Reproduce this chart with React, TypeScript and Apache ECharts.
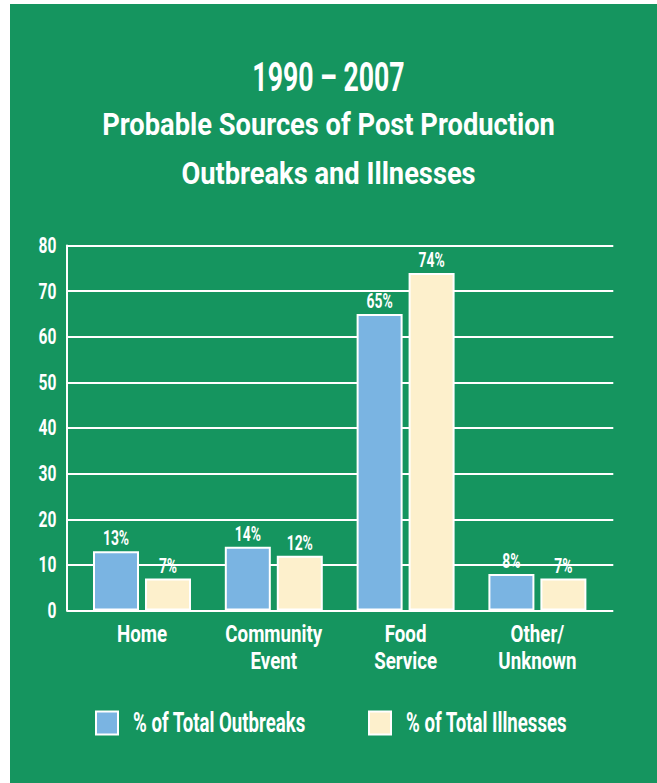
import React, { useEffect, useRef } from "react";
import * as echarts from "echarts";

const categories = ["Home", "Community\nEvent", "Food\nService", "Other/\nUnknown"];
const outbreaks = [13, 14, 65, 8];
const illnesses = [7, 12, 74, 7];
const seriesNames = ["% of Total Outbreaks", "% of Total Illnesses"];
const titleText = "1990 – 2007";
const subtitleLines = ["Probable Sources of Post Production", "Outbreaks and Illnesses"];

const FONT = "Roboto, 'Noto Sans', sans-serif";
const GREEN = "#15955f";
const BLUE = "#7ab4e2";
const CREAM = "#fdf0cc";

// horizontal condensing per font size (to imitate a condensed typeface)
const SCALE: Record<number, number> = { 41: 0.65, 31: 0.88, 27: 0.69, 24: 0.78, 22: 0.71, 21: 0.66 };

export default function App() {
  const ref = useRef<HTMLDivElement>(null);
  useEffect(() => {
    document.body.style.margin = "0";
    const root = ref.current!;
    const chart = echarts.init(root, null, { renderer: "svg" });
    const condense = () => {
      root.querySelectorAll("text").forEach((el) => {
        const cur = el.getAttribute("transform") || "";
        if (el.getAttribute("data-ct") === cur && cur !== "") return;
        const src = (el.getAttribute("style") || "") + " " + (el.getAttribute("font-size") || "") + "px";
        const m = /([\d.]+)px/.exec(src);
        const fs = m ? Math.round(parseFloat(m[1])) : 0;
        const s = SCALE[fs];
        if (!s) return;
        const x = parseFloat(el.getAttribute("x") || "0") || 0;
        const nt = `${cur} translate(${x} 0) scale(${s} 1) translate(${-x} 0)`.trim();
        el.setAttribute("transform", nt);
        el.setAttribute("data-ct", nt);
      });
    };
    const barCommon = {
      type: "bar" as const,
      xAxisIndex: 1,
      yAxisIndex: 1,
      barWidth: 46,
      barGap: "13%",
      label: {
        show: true,
        position: "top" as const,
        distance: 3,
        formatter: "{c}%",
        color: "#ffffff",
        fontFamily: FONT,
        fontWeight: "bold" as const,
        fontSize: 21,
        lineHeight: 21,
      },
    };
    const legendCommon = {
      top: 709.5,
      padding: 0,
      itemWidth: 22,
      itemHeight: 23,
      icon: "rect",
      textStyle: {
        color: "#ffffff",
        fontFamily: FONT,
        fontWeight: "bold",
        fontSize: 27,
        lineHeight: 25,
        padding: [0, 0, 0, 10],
      },
      itemStyle: { borderColor: "#ffffff", borderWidth: 2 },
    };
    chart.setOption({
      animation: false,
      backgroundColor: "#ffffff",
      graphic: [
        { type: "rect", shape: { x: 10, y: 4, width: 700, height: 800 }, style: { fill: GREEN }, z: -10 },
      ],
      title: {
        text: titleText,
        subtext: subtitleLines.join("\n"),
        left: "center",
        top: 56,
        padding: 0,
        itemGap: 2,
        textStyle: { color: "#ffffff", fontFamily: FONT, fontWeight: "bold", fontSize: 41, lineHeight: 42 },
        subtextStyle: { color: "#ffffff", fontFamily: FONT, fontWeight: "bold", fontSize: 31, lineHeight: 49 },
      },
      legend: [
        { ...legendCommon, left: 95, data: [seriesNames[0]] },
        { ...legendCommon, left: 368, data: [seriesNames[1]] },
      ],
      grid: [
        { left: 66.5, right: 43.7, top: 245.5, height: 365 },
        { left: 76.1, width: 527.2, top: 245.5, height: 365 },
      ],
      xAxis: [
        { gridIndex: 0, type: "category", data: categories, show: false },
        {
          gridIndex: 1,
          type: "category",
          data: categories,
          axisLine: { show: false },
          axisTick: { show: false },
          axisLabel: {
            interval: 0,
            color: "#ffffff",
            fontFamily: FONT,
            fontWeight: "bold",
            fontSize: 24,
            lineHeight: 27,
            margin: 9.5,
          },
        },
      ],
      yAxis: [
        {
          gridIndex: 0,
          type: "value",
          min: 0,
          max: 80,
          interval: 10,
          axisLine: { show: true, lineStyle: { color: "#ffffff", width: 2 } },
          axisTick: { show: false },
          splitLine: { show: true, lineStyle: { color: "#ffffff", width: 2 } },
          axisLabel: { color: "#ffffff", fontFamily: FONT, fontWeight: "bold", fontSize: 22, margin: 10 },
        },
        { gridIndex: 1, type: "value", min: 0, max: 80, interval: 10, show: false },
      ],
      series: [
        {
          ...barCommon,
          name: seriesNames[0],
          data: outbreaks,
          itemStyle: { color: BLUE, borderColor: "#ffffff", borderWidth: 2 },
        },
        {
          ...barCommon,
          name: seriesNames[1],
          data: illnesses,
          itemStyle: { color: CREAM, borderColor: "#ffffff", borderWidth: 2 },
        },
      ],
    });
    condense();
    chart.on("rendered", condense);
    return () => chart.dispose();
  }, []);
  return <div ref={ref} style={{ width: 657, height: 783 }} />;
}
